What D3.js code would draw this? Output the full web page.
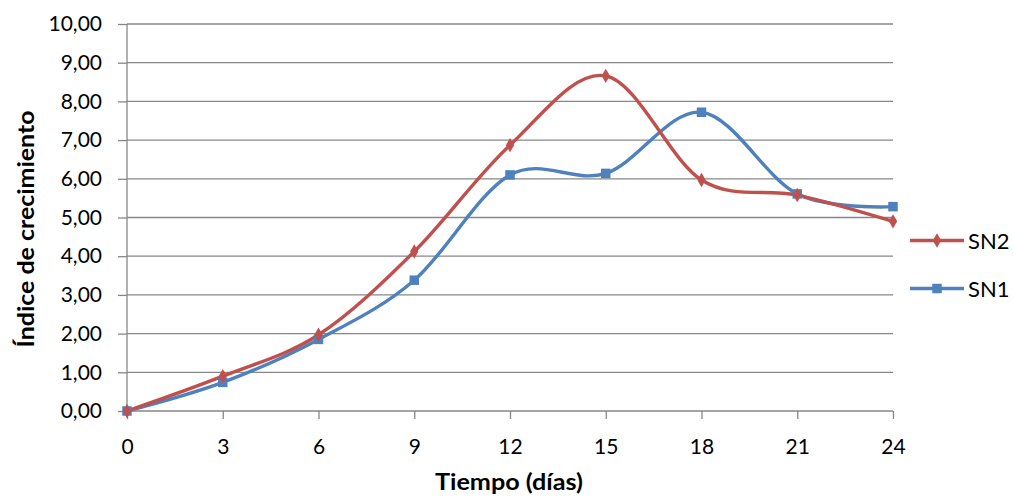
<!DOCTYPE html>
<html><head><meta charset="utf-8">
<script src="https://cdn.jsdelivr.net/npm/d3@7"></script>
<style>body{margin:0;background:#fff}svg{display:block}text{font-family:Lato,"Open Sans",sans-serif}</style>
</head><body>
<script>
const days = [0, 3, 6, 9, 12, 15, 18, 21, 24];
const sn2 = [0, 0.90, 1.97, 4.12, 6.87, 8.66, 5.97, 5.58, 4.90];
const sn1 = [0, 0.74, 1.85, 3.38, 6.10, 6.14, 7.72, 5.61, 5.28];
const yTicks = [0,1,2,3,4,5,6,7,8,9,10];
const seriesNames = ["SN2", "SN1"];
const colors = ["#C0504D", "#4F81BD"];
const xTitle = "Tiempo (días)";
const yTitle = "Índice de crecimiento";

const W = 1013, H = 497;
const svg = d3.select("body").append("svg").attr("width", W).attr("height", H);
const x = d3.scaleLinear().domain([0, 24]).range([127, 893]);
const y = d3.scaleLinear().domain([0, 10]).range([411, 24]);
const fmt = v => v.toFixed(2).replace(".", ",");
const gridColor = "#878787";

// gridlines
svg.append("g").selectAll("line").data(yTicks.filter(d => d > 0)).join("line")
  .attr("x1", x(0)).attr("x2", x(24)).attr("y1", d => y(d)).attr("y2", d => y(d))
  .attr("stroke", gridColor).attr("stroke-width", 1.3);

// y axis
const ya = svg.append("g").attr("transform", `translate(${x(0)},0)`)
  .call(d3.axisLeft(y).tickValues(yTicks).tickFormat(fmt).tickSize(9).tickPadding(16));
ya.select(".domain").attr("stroke", gridColor).attr("stroke-width", 1.3).attr("d", `M0,${y(10)}V${y(0)}`);
ya.selectAll(".tick line").attr("stroke", gridColor).attr("stroke-width", 1.3);
ya.selectAll(".tick text").attr("font-size", 21).attr("fill", "#000").attr("font-family", "Lato");

// x axis
const xa = svg.append("g").attr("transform", `translate(0,${y(0)})`)
  .call(d3.axisBottom(x).tickValues(days).tickFormat(d3.format("d")).tickSize(8).tickPadding(20));
xa.select(".domain").attr("stroke", gridColor).attr("stroke-width", 1.3).attr("d", `M${x(0)},0H${x(24)}`);
xa.selectAll(".tick line").attr("stroke", gridColor).attr("stroke-width", 1.3);
xa.selectAll(".tick text").attr("font-size", 21).attr("fill", "#000").attr("font-family", "Lato").attr("dy", null).attr("y", 8 + 20 + 15);

// titles
svg.append("text").attr("x", 509).attr("y", 490).attr("text-anchor", "middle")
  .attr("font-size", 22).attr("font-weight", "bold")
  .attr("textLength", 148).attr("lengthAdjust", "spacingAndGlyphs").text(xTitle);
svg.append("text").attr("transform", "translate(34,229) rotate(-90)").attr("text-anchor", "middle")
  .attr("font-size", 22).attr("font-weight", "bold")
  .attr("textLength", 237).attr("lengthAdjust", "spacingAndGlyphs").text(yTitle);

const line = d3.line().x((d, i) => x(days[i])).y(d => y(d)).curve(d3.curveCardinal.tension(0));
const data = [sn2, sn1];
const diamond = d3.symbol().type(d3.symbolDiamond).size(60);
const square = d3.symbol().type(d3.symbolSquare).size(90);

[1, 0].forEach(k => {
  svg.append("path").attr("d", line(data[k])).attr("fill", "none")
    .attr("stroke", colors[k]).attr("stroke-width", 3.4).attr("stroke-linejoin", "round");
});
[1, 0].forEach(k => {
  svg.append("g").selectAll("path").data(data[k]).join("path")
    .attr("transform", (d, i) => `translate(${x(days[i])},${y(d)})`)
    .attr("d", k === 0 ? diamond : square).attr("fill", colors[k]);
});

// legend
const legY = [240.5, 288.5];
seriesNames.forEach((n, k) => {
  const g = svg.append("g");
  g.append("line").attr("x1", 910).attr("x2", 964).attr("y1", legY[k]).attr("y2", legY[k])
    .attr("stroke", colors[k]).attr("stroke-width", 3.4);
  g.append("path").attr("transform", `translate(937,${legY[k]})`)
    .attr("d", k === 0 ? diamond : square).attr("fill", colors[k]);
  g.append("text").attr("x", 968).attr("y", legY[k] + 8).attr("font-size", 22).text(n);
});
</script>
</body></html>
